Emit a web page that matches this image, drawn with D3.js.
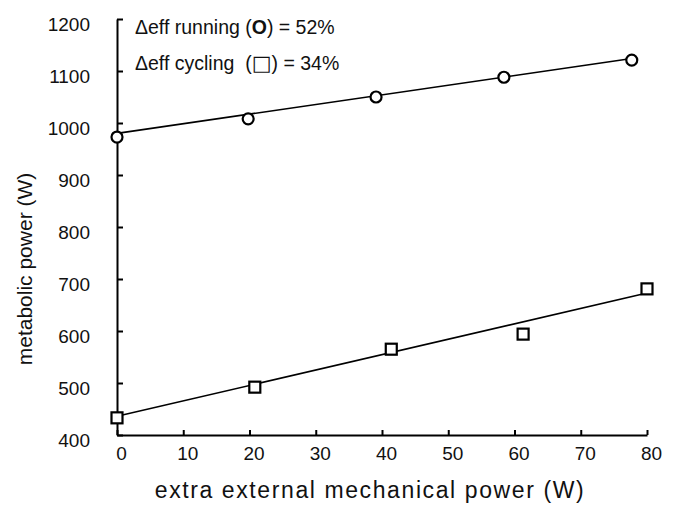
<!DOCTYPE html>
<html>
<head>
<meta charset="utf-8">
<script src="https://cdn.jsdelivr.net/npm/d3@7"></script>
<style>
  body { margin: 0; background: #fff; }
  svg { display: block; }
  text { font-family: "Liberation Sans", Arial, Helvetica, sans-serif; fill: #111; }
</style>
</head>
<body>
<div id="chart"></div>
<script>
// values
const runX = [0, 19.8, 39.1, 58.4, 77.7];
const runY = [973, 1008, 1050, 1088, 1121];
const cycX = [0, 20.8, 41.4, 61.3, 80];
const cycY = [433, 492, 565, 594, 681];
// regression lines (end points)
const runFit = [[0, 980], [77.7, 1124]];
const cycFit = [[0, 436], [80, 673]];
const xTicks = [0, 10, 20, 30, 40, 50, 60, 70, 80];
const yTicks = [400, 500, 600, 700, 800, 900, 1000, 1100, 1200];

const W = 675, H = 509;
const plotLeft = 117, plotRight = 647, plotTop = 19, plotBottom = 435;

const svg = d3.select("#chart").append("svg")
  .attr("width", W)
  .attr("height", H);

const x = d3.scaleLinear().domain([0, 80]).range([plotLeft, plotRight]);
const y = d3.scaleLinear().domain([400, 1200]).range([plotBottom, plotTop]);

// x axis
const gx = svg.append("g")
  .attr("transform", "translate(0," + plotBottom + ")")
  .call(d3.axisBottom(x).tickValues(xTicks).tickFormat(d3.format("d"))
    .tickSizeInner(-5).tickSizeOuter(0).tickPadding(12));
gx.selectAll("text").attr("dx", 4).style("font-size", "19px");

// y axis
const gy = svg.append("g")
  .attr("transform", "translate(" + plotLeft + ",0)")
  .call(d3.axisLeft(y).tickValues(yTicks).tickFormat(d3.format("d"))
    .tickSizeInner(-6).tickSizeOuter(0).tickPadding(27));
gy.selectAll("text").attr("dy", "0.6em").style("font-size", "19px");

svg.selectAll(".domain").attr("stroke", "#000").attr("stroke-width", 2);
svg.selectAll(".tick line").attr("stroke", "#000").attr("stroke-width", 2);

// fit lines
const line = d3.line().x(d => x(d[0])).y(d => y(d[1]));
[runFit, cycFit].forEach(f => {
  svg.append("path")
    .attr("d", line(f))
    .attr("fill", "none")
    .attr("stroke", "#000")
    .attr("stroke-width", 1.6);
});

// running: circles
svg.selectAll(".run")
  .data(runX.map((v, i) => [v, runY[i]]))
  .enter().append("circle")
  .attr("class", "run")
  .attr("cx", d => x(d[0]))
  .attr("cy", d => y(d[1]))
  .attr("r", 5.5)
  .attr("fill", "#fff")
  .attr("stroke", "#000")
  .attr("stroke-width", 2.2);

// cycling: squares
const sq = 11;
svg.selectAll(".cyc")
  .data(cycX.map((v, i) => [v, cycY[i]]))
  .enter().append("rect")
  .attr("class", "cyc")
  .attr("x", d => x(d[0]) - sq / 2)
  .attr("y", d => y(d[1]) - sq / 2)
  .attr("width", sq)
  .attr("height", sq)
  .attr("fill", "#fff")
  .attr("stroke", "#000")
  .attr("stroke-width", 2.2);

// legend text
const l1 = svg.append("text").attr("x", 135).attr("y", 34).style("font-size", "19.5px");
l1.append("tspan").text("\u0394eff running (");
l1.append("tspan").style("font-weight", "bold").text("O");
l1.append("tspan").text(") = 52%");

const l2 = svg.append("text").attr("x", 135).attr("y", 70).style("font-size", "19.5px")
  .style("white-space", "pre");
l2.append("tspan").text("\u0394eff cycling  (");
l2.append("tspan").style("font-weight", "bold").style("font-size", "21px")
  .style("font-family", "DejaVu Sans").text("\u25A1");
l2.append("tspan").text(") = 34%");

// axis titles
svg.append("text")
  .attr("x", 370)
  .attr("y", 498)
  .attr("text-anchor", "middle")
  .style("font-size", "23px")
  .style("letter-spacing", "1.6px")
  .text("extra external mechanical power (W)");

svg.append("text")
  .attr("transform", "rotate(-90)")
  .attr("x", -269)
  .attr("y", 32)
  .attr("text-anchor", "middle")
  .style("font-size", "21px")
  .text("metabolic power (W)");
</script>
</body>
</html>
